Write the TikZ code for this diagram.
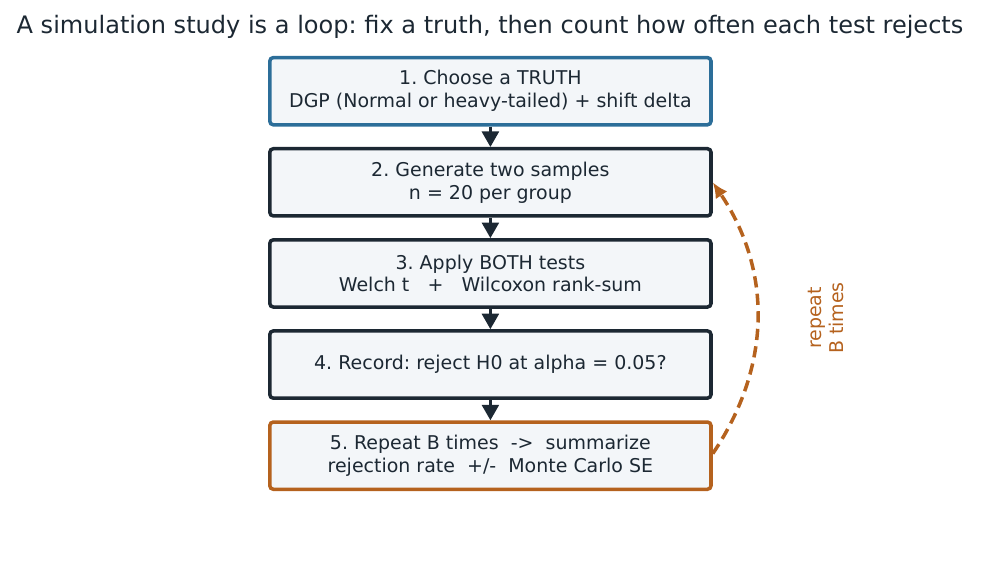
\documentclass[tikz,border=0pt]{standalone}
\usepackage{fontspec}
\setmainfont{DejaVu Sans}
\usepackage{tikz}
\usetikzlibrary{positioning,arrows.meta}
\usepackage{xcolor}
\definecolor{ink}{HTML}{1C2833}
\definecolor{truthblue}{HTML}{2C6E99}
\definecolor{loopbrown}{HTML}{B5621E}
\definecolor{boxfill}{HTML}{F3F6F9}
\frenchspacing

\begin{document}
\begin{tikzpicture}[node distance=0.51cm, every node/.style={font=\fontsize{13.5pt}{16.3pt}\selectfont, text=ink}]
\tikzstyle{stepbox}=[draw=ink, fill=boxfill, line width=2.5pt, rounded corners=2.5pt, minimum width=11.03cm, minimum height=1.68cm, align=center]
\tikzstyle{flow}=[-{Triangle[width=12pt,length=11pt]}, line width=2pt, draw=ink]
\useasboundingbox (0,0) rectangle (24.525,-14.2);
\node[font=\fontsize{17.1pt}{20pt}\selectfont] (title) at (12.25,-0.66) {A simulation study is a loop: fix a truth, then count how often each test rejects};
\node[stepbox, draw=truthblue] (s1) at (12.26,-2.28) {1. Choose a TRUTH\\DGP (Normal or heavy-tailed) + shift delta};
\node[stepbox, below=of s1] (s2) {2. Generate two samples\\n = 20 per group};
\node[stepbox, below=of s2] (s3) {3. Apply BOTH tests\\Welch t\ \ \ +\ \ \ Wilcoxon rank-sum};
\node[stepbox, below=of s3] (s4) {4. Record: reject H0 at alpha = 0.05?};
\node[stepbox, below=of s4, draw=loopbrown] (s5) {5. Repeat B times\ \ ->\ \ summarize\\rejection rate\ \ +/-\ \ Monte Carlo SE};
\draw[flow] (s1) -- (s2);
\draw[flow] (s2) -- (s3);
\draw[flow] (s3) -- (s4);
\draw[flow] (s4) -- (s5);
% loop back
\draw[-{Latex[length=11pt,width=10pt]}, loopbrown, line width=2.5pt, dash pattern=on 8pt off 4.5pt] ([yshift=0.05cm]s5.east) to[bend right=34] (s2.east);
\node[text=loopbrown, rotate=90, align=center] (rep) at (20.65,-7.95) {repeat\\B times};
\end{tikzpicture}
\end{document}
